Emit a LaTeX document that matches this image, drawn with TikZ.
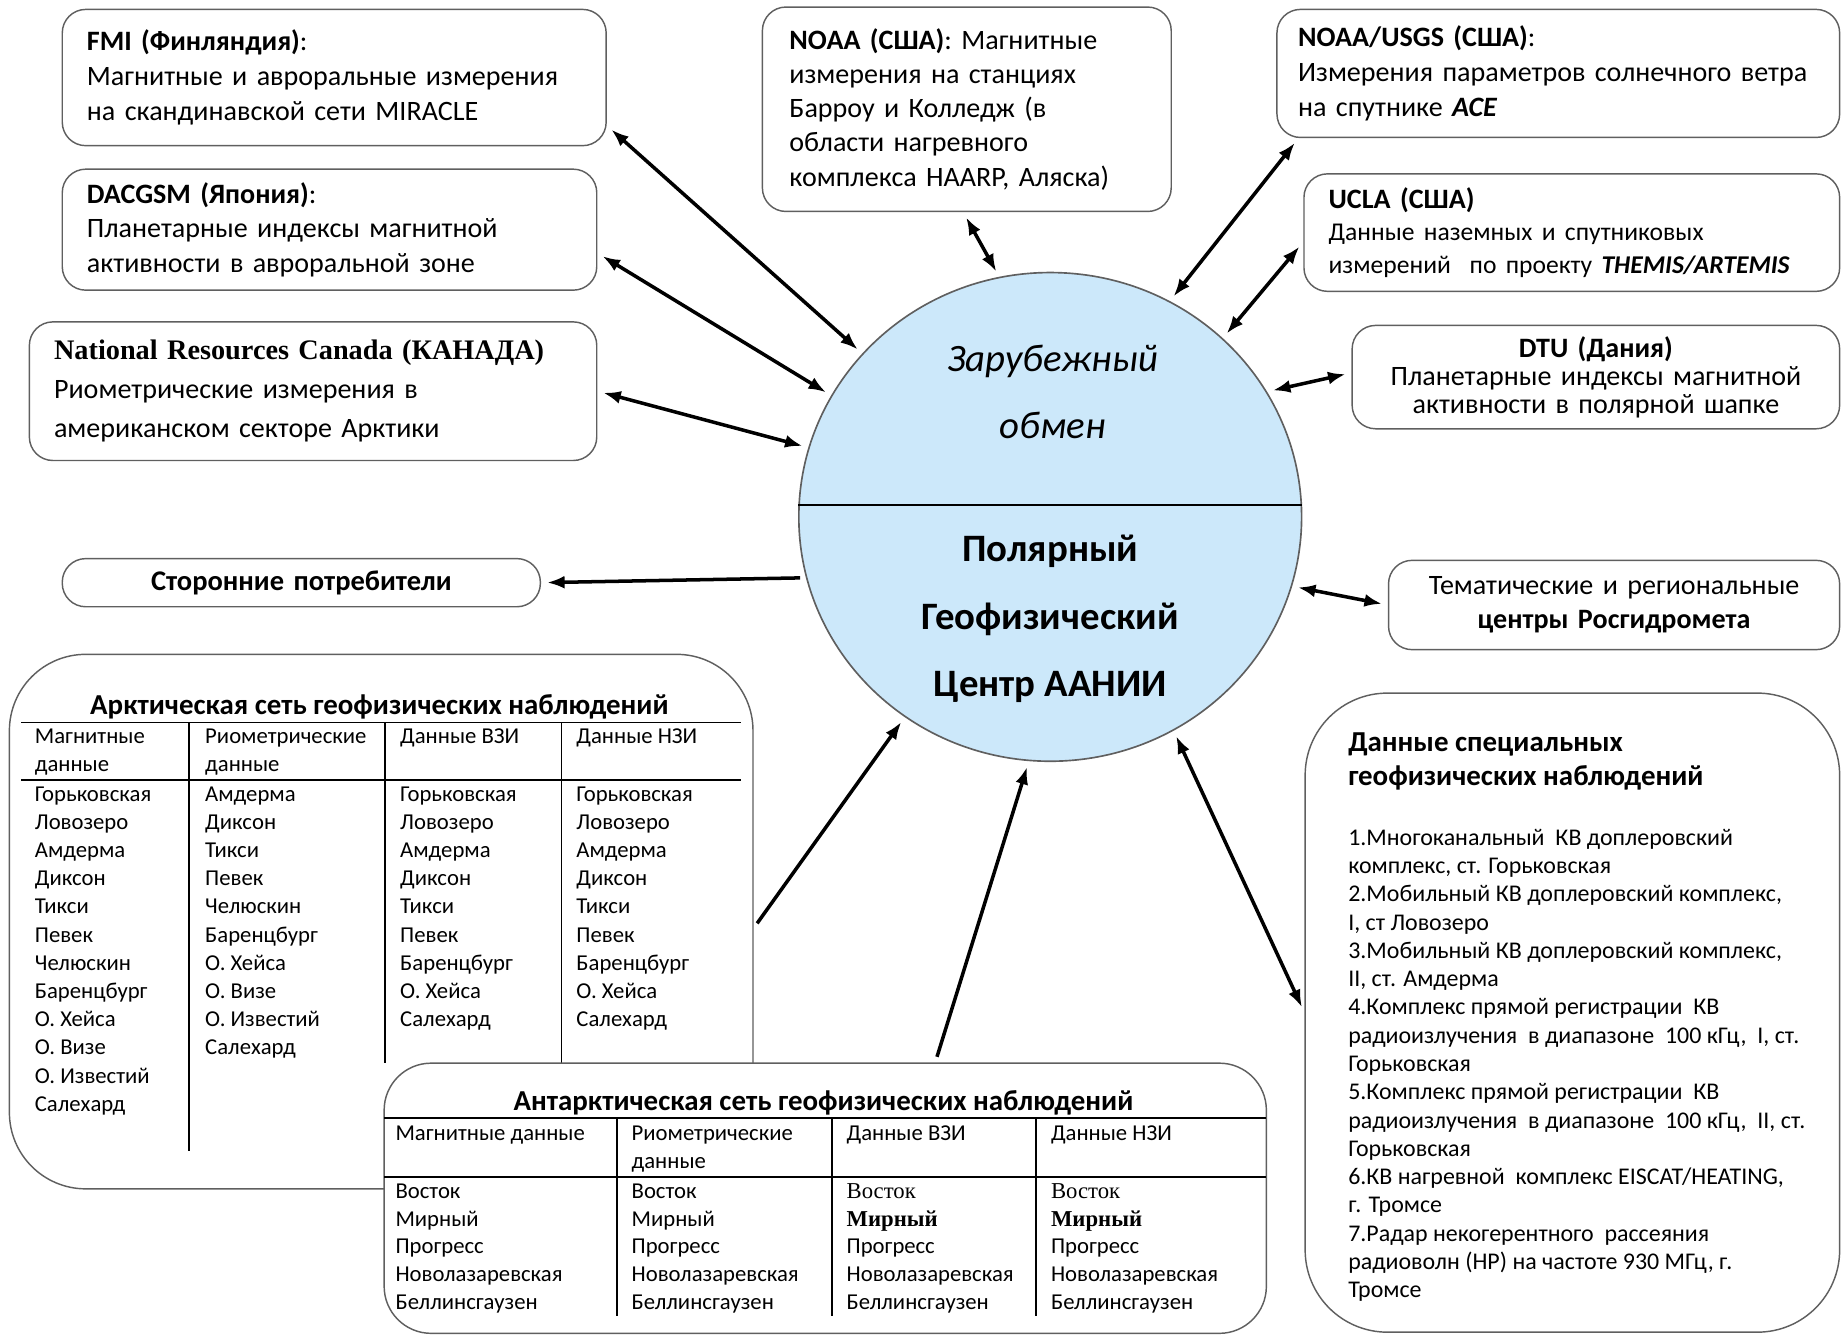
\documentclass[tikz,border=0pt]{standalone}
\usepackage{fontspec}
\setmainfont{Carlito}
\newfontfamily\timesfont{Liberation Serif}
\usetikzlibrary{arrows.meta,shapes.geometric}
\definecolor{pgcblue}{RGB}{204,232,250}
\definecolor{edgegray}{RGB}{95,95,95}

\tikzset{
  infobox/.style={draw=edgegray, line width=0.35pt, rounded corners=2mm, align=left,
    inner xsep=2.1mm, inner ysep=0pt, font=\fontsize{6.8}{8.4}\selectfont},
  netbox/.style={draw=edgegray, line width=0.35pt, fill=white, inner sep=0pt},
  link/.style={<->, line width=0.85pt, shorten <=0.5mm, shorten >=0.5mm},
  cell/.style={anchor=base west, inner sep=0pt, font=\fontsize{5.5}{6.6}\selectfont},
  nettitle/.style={anchor=base, inner sep=0pt, font=\fontsize{7}{8}\selectfont\bfseries},
  tabrule/.style={line width=0.45pt},
}

\begin{document}
\begin{tikzpicture}[x=0.1mm, y=-0.1mm, >={Latex[length=1.5mm,width=1.1mm]}]
\useasboundingbox (0,0) rectangle (1568,1136);

\node[ellipse, draw=edgegray, line width=0.4pt, fill=pgcblue, minimum width=42.8mm,
  minimum height=41.6mm, inner sep=0pt] (pgc) at (894,440) {};
\draw[line width=0.45pt] ([yshift=1mm]pgc.west) -- ([yshift=1mm]pgc.east);
\node[anchor=base, font=\fontsize{9.4}{11}\selectfont\itshape] (zar1) at (896,316) {Зарубежный};
\node[anchor=base, font=\fontsize{9.4}{11}\selectfont\itshape] (zar2) at (896,373) {обмен};
\node[anchor=base, font=\fontsize{9.4}{11}\selectfont\bfseries] (pol1) at (894,478) {Полярный};
\node[anchor=base, font=\fontsize{9.4}{11}\selectfont\bfseries] (pol2) at (894,536) {Геофизический};
\node[anchor=base, font=\fontsize{9.4}{11}\selectfont\bfseries] (pol3) at (894,593) {Центр ААНИИ};

\node[infobox, text width=42.1mm, minimum height=11.6mm] (fmi) at (284.5,66)
  {\textbf{FMI (Финляндия)}:\\Магнитные и авроральные измерения\\на скандинавской сети MIRACLE};
\node[infobox, text width=41.3mm, minimum height=10.3mm] (dacgsm) at (280.5,195.5)
  {\textbf{DACGSM (Япония)}:\\Планетарные индексы магнитной\\активности в авроральной зоне};
\node[infobox, text width=44.1mm, minimum height=11.8mm, font=\fontsize{6.8}{9.4}\selectfont] (canada) at (266.5,333)
  {{\timesfont\bfseries\fontsize{6.85}{9.4}\selectfont National Resources Canada (КАНАДА)}\\Риометрические измерения в\\американском секторе Арктики};
\node[infobox, text width=30.2mm, minimum height=17.4mm, inner xsep=2.3mm, font=\fontsize{6.8}{8.3}\selectfont] (noaa) at (823,93)
  {\textbf{NOAA (США)}: Магнитные\\измерения на станциях\\Барроу и Колледж (в\\области нагревного\\комплекса HAARP, Аляска)};
\node[infobox, text width=44.3mm, minimum height=10.9mm, inner xsep=1.8mm] (usgs) at (1326.5,62.5)
  {\textbf{NOAA/USGS (США)}:\\Измерения параметров солнечного ветра\\на спутнике \textbf{\textit{ACE}}};
\node[infobox, text width=41.4mm, minimum height=10mm, font=\fontsize{6.8}{7.8}\selectfont] (ucla) at (1338,198)
  {\textbf{UCLA (США)}\\{\fontsize{6.2}{7.8}\selectfont Данные наземных и спутниковых\\измерений\ \ по проекту \textbf{\textit{THEMIS/ARTEMIS}}}};
\node[infobox, align=center, text width=37.3mm, minimum height=8.8mm, font=\fontsize{6.8}{6.8}\selectfont] (dtu) at (1358.5,321)
  {\textbf{DTU (Дания)}\\Планетарные индексы магнитной\\активности в полярной шапке};
\node[infobox, align=center, text width=36.5mm, minimum height=4.1mm, font=\fontsize{6.9}{8}\selectfont\bfseries] (users) at (256.5,496)
  {Сторонние потребители};
\node[infobox, align=center, text width=34.2mm, minimum height=7.6mm, font=\fontsize{6.8}{8.3}\selectfont] (rosgid) at (1374,515)
  {Тематические и региональные\\\textbf{центры Росгидромета}};

\node[netbox, rounded corners=7mm, minimum width=45.5mm, minimum height=54.4mm] (spec) at (1338.5,862) {};
\node[anchor=north west, inner sep=0pt, align=left, font=\fontsize{7}{8.3}\selectfont\bfseries] (spectitle) at (1147,623)
  {Данные специальных\\геофизических наблюдений};
\node[anchor=north west, inner sep=0pt, align=left, font=\fontsize{5.8}{6.85}\selectfont] (speclist) at (1147,705)
  {1.Многоканальный\ \ КВ доплеровский\\комплекс, ст. Горьковская\\2.Мобильный КВ доплеровский комплекс,\\I, ст Ловозеро\\
   3.Мобильный КВ доплеровский комплекс,\\II, ст. Амдерма\\4.Комплекс прямой регистрации\ \ КВ\\
   радиоизлучения\ \ в диапазоне\ \ 100 кГц,\ \ I, ст.\\Горьковская\\5.Комплекс прямой регистрации\ \ КВ\\
   радиоизлучения\ \ в диапазоне\ \ 100 кГц,\ \ II, ст.\\Горьковская\\6.КВ нагревной\ \ комплекс EISCAT/HEATING,\\
   г. Тромсе\\7.Радар некогерентного\ \ рассеяния\\радиоволн (НР) на частоте 930 МГц, г.\\Тромсе};

\node[netbox, rounded corners=6.5mm, minimum width=63.3mm, minimum height=45.5mm] (arctic) at (324.5,784.5) {};
\node[nettitle] (arctitle) at (323,608) {Арктическая сеть геофизических наблюдений};
\draw[tabrule] (18,615) -- (631,615) (18,664) -- (631,664);
\draw[tabrule] (161,615) -- (161,980) (328,615) -- (328,905) (478,615) -- (478,905);
\node[cell] (ah1) at (29,633) {Магнитные};
\node[cell] (ah1b) at (29,657) {данные};
\node[cell] (ah2) at (174,633) {Риометрические};
\node[cell] (ah2b) at (174,657) {данные};
\node[cell] (ah3) at (340,633) {Данные ВЗИ};
\node[cell] (ah4) at (490,633) {Данные НЗИ};
\foreach \st [count=\i] in {Горьковская, Ловозеро, Амдерма, Диксон, Тикси, Певек, Челюскин, Баренцбург, О. Хейса, О. Визе, О. Известий, Салехард}
  \node[cell] (am\i) at (29,658+24*\i) {\st};
\foreach \st [count=\i] in {Амдерма, Диксон, Тикси, Певек, Челюскин, Баренцбург, О. Хейса, О. Визе, О. Известий, Салехард}
  \node[cell] (ar\i) at (174,658+24*\i) {\st};
\foreach \st [count=\i] in {Горьковская, Ловозеро, Амдерма, Диксон, Тикси, Певек, Баренцбург, О. Хейса, Салехард}
  \node[cell] (av\i) at (340,658+24*\i) {\st};
\foreach \st [count=\i] in {Горьковская, Ловозеро, Амдерма, Диксон, Тикси, Певек, Баренцбург, О. Хейса, Салехард}
  \node[cell] (an\i) at (490,658+24*\i) {\st};

\node[netbox, rounded corners=4mm, minimum width=75.1mm, minimum height=23mm] (antarc) at (702.5,1020) {};
\node[nettitle] (anttitle) at (701,945) {Антарктическая сеть геофизических наблюдений};
\draw[tabrule] (327,952) -- (1078,952) (327,1002) -- (1078,1002);
\draw[tabrule] (525,952) -- (525,1120) (708,952) -- (708,1120) (882,952) -- (882,1120);
\node[cell] (bh1) at (336,971) {Магнитные данные};
\node[cell] (bh2) at (537,971) {Риометрические};
\node[cell] (bh2b) at (537,995) {данные};
\node[cell] (bh3) at (720,971) {Данные ВЗИ};
\node[cell] (bh4) at (894,971) {Данные НЗИ};
\foreach \st [count=\i] in {Восток, Мирный, Прогресс, Новолазаревская, Беллинсгаузен}
  \node[cell] (bm\i) at (336,996.3+23.7*\i) {\st};
\foreach \st [count=\i] in {Восток, Мирный, Прогресс, Новолазаревская, Беллинсгаузен}
  \node[cell] (br\i) at (537,996.3+23.7*\i) {\st};
\foreach \st [count=\i] in {{\timesfont Восток}, {\timesfont\bfseries Мирный}, Прогресс, Новолазаревская, Беллинсгаузен}
  \node[cell] (bv\i) at (720,996.3+23.7*\i) {\st};
\foreach \st [count=\i] in {{\timesfont Восток}, {\timesfont\bfseries Мирный}, Прогресс, Новолазаревская, Беллинсгаузен}
  \node[cell] (bn\i) at (894,996.3+23.7*\i) {\st};

\draw[link] (fmi.-10) -- (pgc.139.7);
\draw[link] (dacgsm.-5.6) -- (pgc.151.6);
\draw[link] (canada.east) -- (pgc.164.2);
\draw[link] (noaa.-92.6) -- (pgc.102.5);
\draw[link] (usgs.-166.6) -- (pgc.61.7);
\draw[link] (ucla.182) -- (pgc.46.3);
\draw[link] (dtu.179.2) -- (pgc.30.7);
\draw[link,->] (pgc.194.5) -- (users.east);
\draw[link] (rosgid.west) -- (pgc.-16.9);
\draw[link,->] (arctic.-1) -- (pgc.234.6);
\draw[link,->] (antarc.51) -- (pgc.265);
\draw[link] (spec.west) -- (pgc.-60);
\end{tikzpicture}
\end{document}
